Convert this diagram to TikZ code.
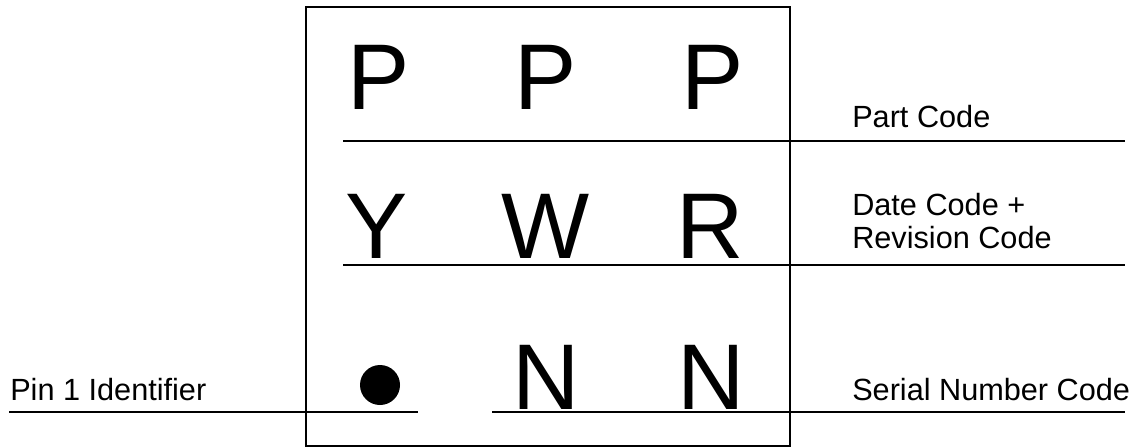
\documentclass[tikz,border=0pt]{standalone}
\usepackage{fontspec}
\setmainfont{Liberation Sans}
\usetikzlibrary{positioning}
\tikzset{
  glyph/.style={anchor=base,inner sep=0pt,font=\fontsize{70}{70}\selectfont},
  tag/.style={anchor=base west,inner sep=0pt,align=left,font=\fontsize{23}{24.75}\selectfont},
  rule/.style={line width=1pt}
}
\begin{document}
\begin{tikzpicture}[x=0.75pt,y=-0.75pt]
\useasboundingbox (0,0) rectangle (1145,447);
% Marking area
\draw[line width=2.2pt] (306,7) rectangle (790,446);

% Part code row
\node[glyph] (p1) at (379,109) {P};
\node[glyph] (p2) at (546,109) {P};
\node[glyph] (p3) at (713,109) {P};
\draw[rule] (343,141) -- (1125,141);
\node[tag] (part) at (852,127) {Part Code};

% Date + revision row
\node[glyph] (y) at (377,258) {Y};
\node[glyph] (w) at (546,258) {W};
\node[glyph] (r) at (710,258) {R};
\draw[rule] (343,265) -- (1125,265);
\node[tag] (date) at (852,248) {Date Code +\\Revision Code};

% Serial row
\fill (380,385) circle (20);
\node[glyph] (n1) at (546,409) {N};
\node[glyph] (n2) at (711,409) {N};
\draw[rule] (9,412) -- (418,412);
\draw[rule] (492,412) -- (1125,412);
\node[tag] (pin) at (10,400) {Pin 1 Identifier};
\node[tag] (serial) at (852,400) {Serial Number Code};
\end{tikzpicture}
\end{document}
